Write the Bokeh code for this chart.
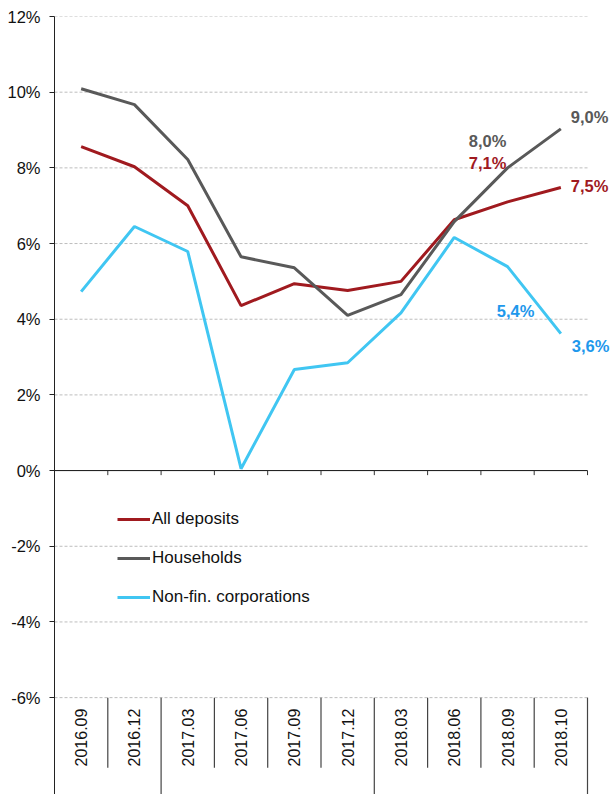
import math
from bokeh.plotting import figure
from bokeh.models import (Range1d, FixedTicker, PrintfTickFormatter,
                          Legend, LegendItem, ColumnDataSource)
from bokeh.core.properties import value
from bokeh.embed import file_html
from bokeh.resources import INLINE

# ---- data ----
categories = ["2016.09", "2016.12", "2017.03", "2017.06", "2017.09",
              "2017.12", "2018.03", "2018.06", "2018.09", "2018.10"]
all_deposits = [8.56, 8.03, 7.00, 4.36, 4.94, 4.76, 5.00, 6.63, 7.10, 7.48]
households = [10.09, 9.67, 8.22, 5.65, 5.36, 4.10, 4.65, 6.58, 8.00, 9.03]
non_fin_corp = [4.73, 6.45, 5.79, 0.05, 2.67, 2.85, 4.17, 6.16, 5.39, 3.62]
y_ticks = [-6, -4, -2, 0, 2, 4, 6, 8, 10, 12]
series_names = ["All deposits", "Households", "Non-fin. corporations"]

# ---- style ----
FONT = "Liberation Sans"
RED = "#A01A1F"
GRAY = "#595959"
BLUE = "#40C6F2"
BLUE_TXT = "#1E98EC"

n = len(categories)
xs = [i + 0.5 for i in range(n)]
y_bottom = -8.56
x_end = n + 0.469

p = figure(width=612, height=794, output_backend="svg", toolbar_location=None,
           x_range=Range1d(0, x_end), y_range=Range1d(y_bottom, 12),
           x_axis_location=None, min_border_left=54, min_border_right=0,
           min_border_top=16, min_border_bottom=0)
p.outline_line_color = None
p.background_fill_color = "white"
p.border_fill_color = "white"

# y axis
p.yaxis.ticker = FixedTicker(ticks=y_ticks)
p.yaxis.formatter = PrintfTickFormatter(format="%d%%")
p.yaxis.major_label_text_font = FONT
p.yaxis.major_label_text_font_size = "16.5px"
p.yaxis.major_label_text_color = "#111111"
p.yaxis.major_tick_in = 0
p.yaxis.major_tick_out = 5
p.yaxis.minor_tick_line_color = None
p.yaxis.major_label_standoff = 9
p.yaxis.axis_line_color = "#222222"
p.yaxis.major_tick_line_color = "#222222"
p.xgrid.visible = False
p.ygrid.visible = False

# dashed gridlines over the category span
g_ticks = [t for t in y_ticks if t != 0]
p.segment(x0=[0] * len(g_ticks), y0=g_ticks, x1=[n] * len(g_ticks), y1=g_ticks,
          line_color="#BDBDBD", line_dash="3 2", line_width=1)

# zero line with category ticks
p.segment(x0=[0], y0=[0], x1=[n], y1=[0], line_color="#111111", line_width=1)
p.segment(x0=list(range(1, n + 1)), y0=[0] * n, x1=list(range(1, n + 1)),
          y1=[-0.12] * n, line_color="#333333", line_width=1)

# category area separators
bx, by1 = [], []
for b in range(1, n + 1):
    long_line = (b == n) or (categories[b][:4] != categories[b - 1][:4])
    bx.append(b)
    by1.append(y_bottom if long_line else -7.85)
p.segment(x0=bx, y0=[-6] * len(bx), x1=bx, y1=by1, line_color="#444444", line_width=1.2)

# category labels
p.text(x=xs, y=[-6] * n, text=categories, angle=math.pi / 2,
       text_align="right", text_baseline="middle", y_offset=11,
       text_font=value(FONT), text_font_size="16px", text_color="#111111")

# series lines
r_all = p.line(xs, all_deposits, line_color=RED, line_width=3)
r_hh = p.line(xs, households, line_color=GRAY, line_width=3)
r_nf = p.line(xs, non_fin_corp, line_color=BLUE, line_width=3)

# value labels
def fmt(v):
    return f"{v:.1f}".replace(".", ",") + "%"

lab = ColumnDataSource(dict(
    x=[xs[-1], xs[-2], xs[-2], xs[-1], xs[-2], xs[-1]],
    y=[households[-1], households[-2], all_deposits[-2], all_deposits[-1],
       non_fin_corp[-2], non_fin_corp[-1]],
    t=[fmt(households[-1]), fmt(households[-2]), fmt(all_deposits[-2]),
       fmt(all_deposits[-1]), fmt(non_fin_corp[-2]), fmt(non_fin_corp[-1])],
    c=[GRAY, GRAY, RED, RED, BLUE_TXT, BLUE_TXT],
    dx=[10, -20, -20, 10, 8, 11],
    dy=[-12, -27, -39, -2, 44, 12],
    al=["left", "center", "center", "left", "center", "left"],
))
p.text(x="x", y="y", text="t", source=lab, text_color="c", x_offset="dx",
       y_offset="dy", text_align="al", text_baseline="middle",
       text_font=value(FONT), text_font_size="16.5px", text_font_style="bold")

legend = Legend(items=[LegendItem(label=series_names[0], renderers=[r_all]),
                       LegendItem(label=series_names[1], renderers=[r_hh]),
                       LegendItem(label=series_names[2], renderers=[r_nf])],
                location=(63, 187), orientation="vertical")
legend.border_line_color = None
legend.background_fill_alpha = 0
legend.padding = 0
legend.margin = 0
legend.spacing = 19
legend.glyph_width = 33
legend.glyph_height = 20
legend.label_height = 20
legend.label_standoff = 2
legend.label_text_font = FONT
legend.label_text_font_size = "17px"
legend.label_text_color = "#111111"
p.add_layout(legend)

open("out.html", "w").write(file_html(p, INLINE))
